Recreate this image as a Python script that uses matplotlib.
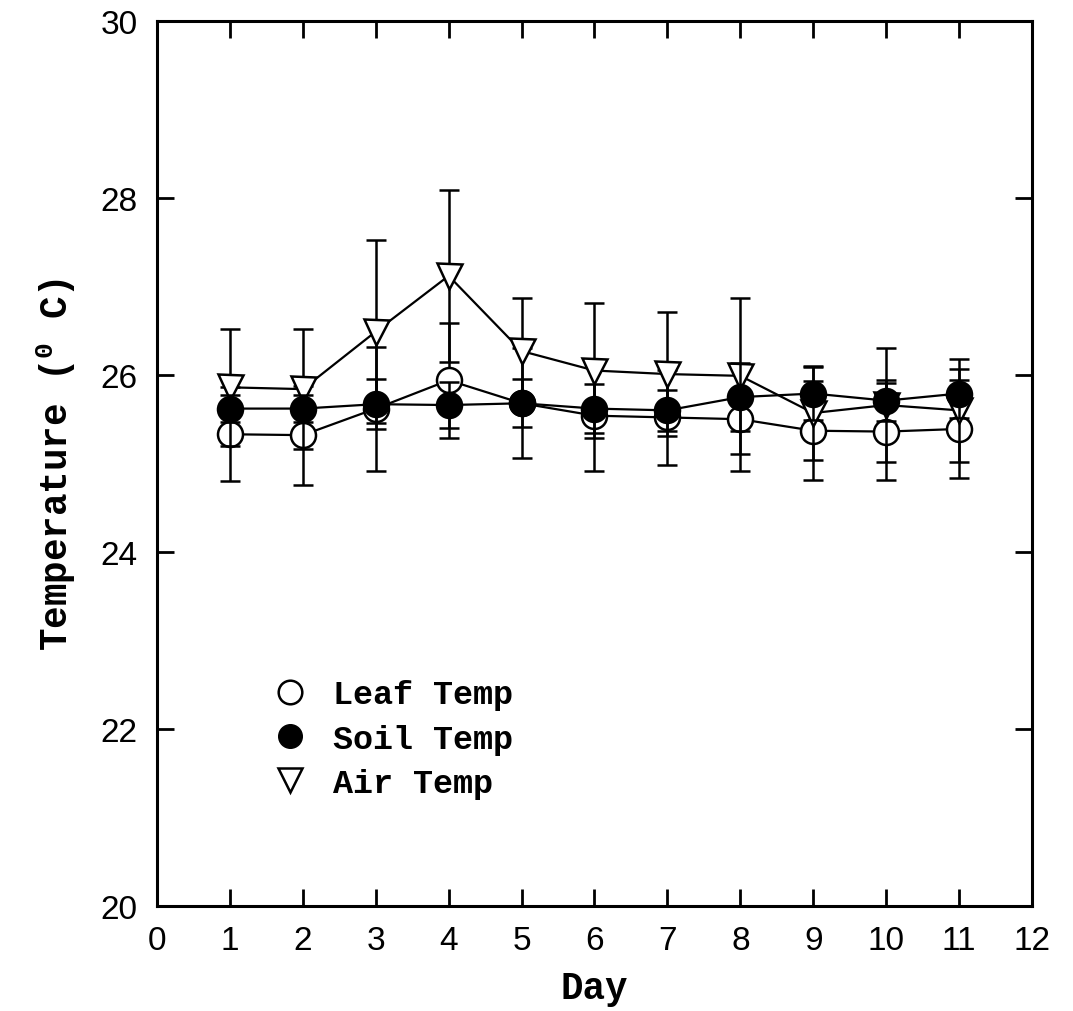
import matplotlib
matplotlib.use('Agg')
from matplotlib import pyplot
from matplotlib.lines import Line2D

# données
jours = [1, 2, 3, 4, 5, 6, 7, 8, 9, 10, 11]
leaf_temp = [25.33, 25.32, 25.62, 25.94, 25.68, 25.54, 25.52, 25.50, 25.37, 25.36, 25.39]
leaf_err = [0.53, 0.56, 0.70, 0.65, 0.62, 0.63, 0.54, 0.59, 0.56, 0.55, 0.55]
soil_temp = [25.62, 25.62, 25.67, 25.66, 25.68, 25.62, 25.60, 25.75, 25.79, 25.71, 25.79]
soil_err = [0.15, 0.15, 0.28, 0.26, 0.27, 0.28, 0.23, 0.38, 0.30, 0.23, 0.28]
air_temp = [25.86, 25.84, 26.49, 27.12, 26.27, 26.05, 26.01, 25.99, 25.57, 25.66, 25.60]
air_err = [0.66, 0.68, 1.03, 0.97, 0.60, 0.76, 0.70, 0.88, 0.53, 0.64, 0.58]

pyplot.rcParams['mathtext.fontset'] = 'custom'
pyplot.rcParams['mathtext.rm'] = 'Liberation Mono:bold'
pyplot.rcParams['mathtext.bf'] = 'Liberation Mono:bold'

fig = pyplot.figure(figsize=(10.73, 10.12), dpi=100)
ax = fig.add_axes([0.1463, 0.1038, 0.8155, 0.8745])

style_commun = dict(color='black', linewidth=1.6, elinewidth=1.8,
                    capsize=7, capthick=1.8, markersize=18,
                    markeredgewidth=1.8, markeredgecolor='black')

ax.errorbar(jours, leaf_temp, yerr=leaf_err, marker='o',
            markerfacecolor='white', zorder=3, **style_commun)
ax.errorbar(jours, air_temp, yerr=air_err, marker='v',
            markerfacecolor='white', zorder=4, **style_commun)
ax.errorbar(jours, soil_temp, yerr=soil_err, marker='o',
            markerfacecolor='black', zorder=5, **style_commun)

ax.set_xlim(0, 12)
ax.set_ylim(20, 30)
ax.set_xticks(range(0, 13))
ax.set_yticks(range(20, 31, 2))

for spine in ax.spines.values():
    spine.set_linewidth(2.2)

ax.tick_params(direction='in', length=12, width=2, top=True, right=True,
               labelsize=24, pad=14)
for lab in ax.get_xticklabels() + ax.get_yticklabels():
    lab.set_family('Liberation Sans')

police = dict(family='Liberation Mono', weight='bold', size=27)
ax.set_xlabel('Day', labelpad=10, **police)
ax.set_ylabel(r'Temperature ($^{0}$ C)', labelpad=16, **police)

poignees = [
    Line2D([], [], linestyle='none', marker='o', markersize=17,
           markerfacecolor='white', markeredgecolor='black',
           markeredgewidth=1.8),
    Line2D([], [], linestyle='none', marker='o', markersize=17,
           markerfacecolor='black', markeredgecolor='black'),
    Line2D([], [], linestyle='none', marker='v', markersize=17,
           markerfacecolor='white', markeredgecolor='black',
           markeredgewidth=1.8),
]
ax.legend(poignees, ['Leaf Temp', 'Soil Temp', 'Air Temp'],
          loc='upper left', bbox_to_anchor=(0.11, 0.275), frameon=False,
          prop=dict(family='Liberation Mono', weight='bold', size=24),
          handletextpad=0.7, labelspacing=0.4, handlelength=1.2,
          borderpad=0)

fig.savefig('out.png', dpi=100)
pyplot.close()
